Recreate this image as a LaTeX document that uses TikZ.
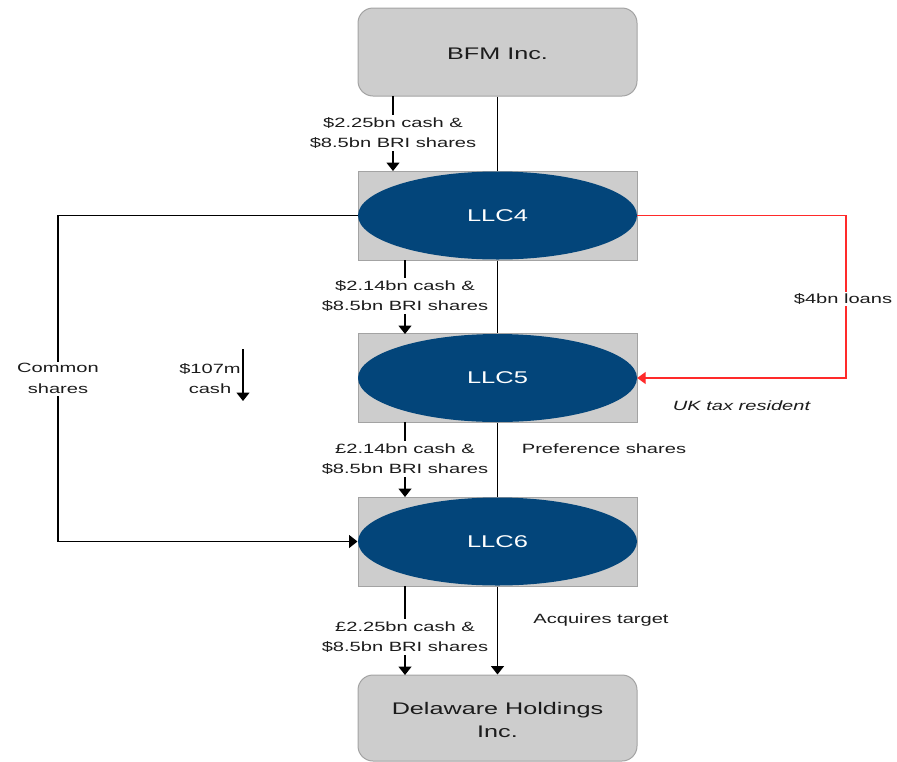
\documentclass[tikz,border=0pt]{standalone}
\usepackage{fontspec}
\setmainfont{Liberation Sans}[FakeStretch=1.5]
\usetikzlibrary{arrows.meta,shapes.geometric}
\definecolor{boxgray}{HTML}{CDCDCD}
\definecolor{boxline}{HTML}{A3A3A3}
\definecolor{llcblue}{HTML}{03457A}
\definecolor{loanred}{HTML}{FF2A2A}
\definecolor{txt}{HTML}{1C1C1C}
\begin{document}
\begin{tikzpicture}[x=1pt,y=-1pt,
  entity/.style={draw=boxline,line width=1pt,fill=boxgray,rounded corners=15pt,
    minimum width=279pt,minimum height=88pt,inner sep=0pt,align=center,
    text=txt,font=\fontsize{16.8}{23}\selectfont},
  holder/.style={draw=boxline,line width=1pt,fill=boxgray,
    minimum width=279pt,minimum height=89pt,inner sep=0pt},
  llc/.style={ellipse,fill=llcblue,text=white,minimum width=279pt,minimum height=88pt,
    inner sep=0pt,font=\fontsize{17}{20}\selectfont},
  flow/.style={line width=1.5pt,black},
  arr/.style={flow,-{Triangle[width=13pt,length=8.5pt]}},
  redarr/.style={line width=1.3pt,loanred,-{Triangle[width=12pt,length=8.5pt]}},
  lbl/.style={fill=white,inner sep=2pt,align=center,text=txt,
    font=\fontsize{13.4}{20.5}\selectfont},
  note/.style={inner sep=0pt,align=center,text=txt,font=\fontsize{13.4}{20.5}\selectfont}]
\useasboundingbox (0,0) rectangle (897,761);

% entities
\node[entity] (bfm) at (497.5,52) {};
\node[entity,draw=none,fill=none] (bfmtxt) at (497.5,54) {BFM Inc.};
\node[holder] (h4) at (497.5,215.5) {};
\node[holder] (h5) at (497.5,378) {};
\node[holder] (h6) at (497.5,541.5) {};
\node[llc] (llc4) at (497.5,215.5) {LLC4};
\node[llc] (llc5) at (497.5,378) {LLC5};
\node[llc] (llc6) at (497.5,541.5) {LLC6};
\node[entity,minimum height=86pt] (del) at (497.5,718) {};
\node[entity,draw=none,fill=none,minimum height=86pt] (deltxt) at (497.5,720) {Delaware Holdings\\Inc.};

% ownership spine
\draw[flow] (bfm.south) -- (h4.north);
\draw[flow] (h4.south) -- (h5.north);
\draw[flow] (h5.south) -- (h6.north);
\draw[arr] (h6.south) -- (del.north);

% consideration flows
\coordinate (a1) at (393,96);
\coordinate (a1e) at (393,171);
\draw[arr] (a1) -- (a1e);
\node[lbl] (l1) at (393,133) {\$2.25bn cash \&\\\$8.5bn BRI shares};

\coordinate (a2) at (405,260);
\coordinate (a2e) at (405,334);
\draw[arr] (a2) -- (a2e);
\node[lbl] (l2) at (405,296) {\$2.14bn cash \&\\\$8.5bn BRI shares};

\coordinate (a3) at (405,422);
\coordinate (a3e) at (405,497);
\draw[arr] (a3) -- (a3e);
\node[lbl] (l3) at (405,459) {£2.14bn cash \&\\\$8.5bn BRI shares};

\coordinate (a4) at (405,586);
\coordinate (a4e) at (405,675);
\draw[arr] (a4) -- (a4e);
\node[lbl] (l4) at (405,637) {£2.25bn cash \&\\\$8.5bn BRI shares};

% common shares from LLC4 to LLC6
\draw[arr] (h4.west) -- (58,215.5) -- (58,541.5) -- (h6.west);
\node[lbl] (cs) at (58,378.5) {Common\\shares};

% small cash flow
\node[note] (c107) at (210,378.5) {\$107m\\cash};
\coordinate (b1) at (243,349);
\coordinate (b1e) at (243,401);
\draw[arr] (b1) -- (b1e);

% loans
\draw[redarr] (llc4.east) -- (846,215.5) -- (846,378) -- (llc5.east);
\node[lbl] (loan) at (843,299) {\$4bn loans};

% annotations
\node[note] (uk) at (741.5,406) {\itshape UK tax resident};
\node[note] (pref) at (604,449) {Preference shares};
\node[note] (acq) at (601,620) {Acquires target};
\end{tikzpicture}
\end{document}
